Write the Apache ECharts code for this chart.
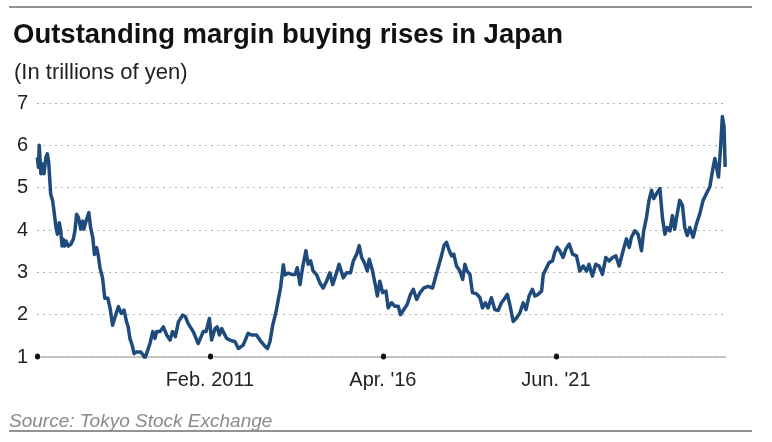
<!DOCTYPE html>
<html>
<head>
<meta charset="utf-8">
<script src="https://cdn.jsdelivr.net/npm/echarts@6/dist/echarts.min.js"></script>
<style>
  html, body { margin: 0; padding: 0; background: #fff; }
  #chart { width: 772px; height: 442px; }
</style>
</head>
<body>
<div id="chart"></div>
<script>
// months counted from Dec. 2005 (first tick), values in trillions of yen
const months = [
  0.1, 0.5, 0.8, 1.4, 2.0, 2.5, 3.2, 3.7, 4.2, 4.9, 5.6, 6.1, 6.8, 7.3, 8.0, 8.5, 9.0, 9.4, 9.9, 10.4,
  11.2, 12.1, 13.0, 13.6, 14.2, 14.9, 15.7, 16.4, 16.8, 17.6, 18.0, 18.6, 19.2, 20.0, 20.6, 21.4, 21.9, 22.6, 23.5, 24.3,
  25.4, 26.2, 27.1, 28.0, 29.2, 30.2, 31.2, 32.1, 32.7, 33.3, 34.1, 34.8, 35.7, 37.2, 38.1, 38.7, 39.5, 40.5, 41.5, 42.3,
  42.9, 44.1, 45.3, 46.5, 47.7, 48.6, 49.6, 50.7, 52.2, 53.2, 54.2, 56.0, 57.8, 59.6, 60.6, 61.8, 62.6, 63.8, 64.6, 65.4,
  66.2, 68.0, 69.2, 71.0, 72.2, 73.9, 75.7, 76.9, 78.7, 79.9, 81.4, 82.6, 83.5, 84.5, 85.7, 86.6, 87.3, 88.3, 88.9, 90.1,
  91.3, 92.5, 93.3, 94.3, 95.2, 96.4, 97.2, 98.1, 99.0, 100.2, 101.4, 102.6, 103.8, 105.0, 106.0, 106.8, 108.3, 109.8, 111.0, 112.4,
  113.4, 114.6, 115.5, 116.4, 117.6, 118.4, 119.1, 120.3, 121.5, 122.0, 122.9, 123.9, 125.1, 125.9, 127.1, 128.3, 129.5, 130.3, 131.5, 132.7,
  133.9, 134.9, 136.1, 137.3, 138.7, 140.2, 141.8, 142.8, 143.8, 145.0, 145.9, 146.8, 147.8, 148.6, 149.4, 150.4, 151.6, 152.6, 153.4, 154.2,
  155.2, 156.1, 157.6, 158.8, 159.7, 160.7, 161.7, 162.9, 164.1, 165.3, 166.5, 167.4, 168.6, 169.5, 170.7, 171.9, 173.1, 174.3, 175.3, 176.4,
  177.6, 178.5, 179.7, 180.9, 181.5, 182.4, 183.6, 184.8, 185.6, 186.5, 187.4, 188.6, 189.6, 190.8, 192.0, 193.4, 194.6, 195.8, 197.0, 197.9,
  199.1, 200.3, 201.5, 202.7, 203.9, 205.1, 206.3, 207.5, 208.7, 210.1, 211.3, 212.3, 213.1, 214.3, 215.5, 216.7, 217.5, 218.5, 219.4, 220.3,
  221.1, 222.1, 223.3, 224.2, 225.1, 225.9, 226.9, 227.8, 228.6, 229.5, 230.4, 231.4, 232.2, 233.1, 234.0, 235.2, 236.4, 237.6, 238.8, 240.0,
  241.2, 242.2, 243.0, 243.6, 244.3, 245.0, 245.7, 246.3, 246.7
];
const values = [
  5.72, 5.48, 6.0, 5.33, 5.56, 5.33, 5.72, 5.80, 5.60, 4.85, 4.69, 4.45, 4.06, 3.90, 4.17, 3.98, 3.62, 3.78, 3.62, 3.74,
  3.62, 3.66, 3.78, 3.98, 4.37, 4.29, 4.02, 4.21, 4.02, 4.21, 4.21, 4.41, 4.06, 3.82, 3.42, 3.58, 3.42, 3.10, 2.87, 2.39,
  2.39, 2.15, 1.75, 1.95, 2.19, 2.03, 2.11, 1.83, 1.71, 1.44, 1.28, 1.08, 1.12, 1.12, 1.04, 0.97, 1.12, 1.32, 1.60, 1.44,
  1.60, 1.60, 1.71, 1.52, 1.40, 1.60, 1.48, 1.83, 1.99, 1.95, 1.79, 1.60, 1.32, 1.60, 1.60, 1.91, 1.40, 1.67, 1.71, 1.52,
  1.67, 1.44, 1.40, 1.36, 1.20, 1.28, 1.56, 1.52, 1.52, 1.40, 1.28, 1.20, 1.36, 1.75, 2.07, 2.39, 2.63, 3.18, 2.94, 2.98,
  2.95, 2.95, 3.11, 2.71, 3.11, 3.51, 3.19, 3.27, 3.03, 2.95, 2.75, 2.63, 2.79, 2.99, 2.71, 2.87, 3.19, 2.87, 2.99, 2.99,
  3.27, 3.43, 3.63, 3.35, 3.19, 3.03, 3.31, 3.03, 2.63, 2.44, 2.79, 2.52, 2.56, 2.16, 2.28, 2.20, 2.20, 2.00, 2.12, 2.24,
  2.48, 2.60, 2.36, 2.52, 2.63, 2.67, 2.63, 2.87, 3.11, 3.39, 3.63, 3.71, 3.51, 3.39, 3.43, 3.15, 3.03, 2.83, 3.19, 3.03,
  2.95, 2.52, 2.49, 2.40, 2.16, 2.28, 2.16, 2.40, 2.12, 2.10, 2.28, 2.36, 2.48, 2.24, 1.84, 1.92, 2.04, 2.28, 2.12, 2.44,
  2.60, 2.44, 2.48, 2.56, 2.95, 3.07, 3.23, 3.27, 3.47, 3.59, 3.51, 3.35, 3.55, 3.67, 3.43, 3.39, 3.03, 3.15, 3.03, 3.19,
  2.91, 3.19, 3.15, 2.95, 3.35, 3.27, 3.35, 3.39, 3.15, 3.51, 3.79, 3.59, 3.83, 3.98, 3.90, 3.51, 3.98, 4.30, 4.70, 4.94,
  4.74, 4.86, 4.98, 4.30, 3.90, 4.06, 3.98, 4.34, 4.02, 4.38, 4.70, 4.58, 4.06, 3.87, 4.06, 3.83, 4.14, 4.38, 4.70, 4.86,
  5.02, 5.41, 5.69, 5.65, 5.25, 5.89, 6.68, 6.44, 5.49
];
const tickMonths = [0, 62, 124, 186];
const tickLabels = ['', 'Feb. 2011', "Apr. '16", "Jun. '21"];
const yTicks = [1, 2, 3, 4, 5, 6, 7];

const FONT = '"Liberation Sans", Arial, Helvetica, sans-serif';
const chart = echarts.init(document.getElementById('chart'));
chart.setOption({
  animation: false,
  title: [
    { text: 'Outstanding margin buying rises in Japan', left: 13, top: 21, padding: 0,
      textStyle: { fontFamily: FONT, fontSize: 27.5, fontWeight: 'bold', color: '#111' } },
    { text: '(In trillions of yen)', left: 14, top: 62, padding: 0,
      textStyle: { fontFamily: FONT, fontSize: 22, fontWeight: 'normal', color: '#222' } },
    { text: 'Source: Tokyo Stock Exchange', left: 9, top: 412, padding: 0,
      textStyle: { fontFamily: FONT, fontSize: 19, fontWeight: 'normal', fontStyle: 'italic', color: '#8a8a8a' } }
  ],
  graphic: [
    { type: 'line', shape: { x1: 9, y1: 7, x2: 752, y2: 7 }, style: { stroke: '#6e6e6e', lineWidth: 1.5 } },
    { type: 'line', shape: { x1: 9, y1: 431, x2: 752, y2: 431 }, style: { stroke: '#6e6e6e', lineWidth: 1.5 } }
  ],
  grid: { left: 37, right: 46, top: 103, bottom: 85 },
  xAxis: {
    type: 'value', min: 0, max: 247,
    axisLine: { show: true, lineStyle: { color: '#b5b5b5', width: 1.5 } },
    axisTick: { show: true, customValues: tickMonths, length: 1, inside: true,
      lineStyle: { color: '#111', width: 5, cap: 'round' } },
    axisLabel: { customValues: tickMonths, margin: 13, fontFamily: FONT, fontSize: 20, color: '#222',
      formatter: v => tickLabels[tickMonths.indexOf(v)] || '' },
    splitLine: { show: false }
  },
  yAxis: {
    type: 'value', min: yTicks[0], max: yTicks[yTicks.length - 1], interval: 1,
    axisLine: { show: false }, axisTick: { show: false },
    axisLabel: { margin: 9, fontFamily: FONT, fontSize: 20, color: '#222' },
    splitLine: { show: true, lineStyle: { color: '#b0b0b0', type: [2, 4], width: 1 } }
  },
  series: [{
    type: 'line',
    data: months.map((m, i) => [m, values[i]]),
    showSymbol: false,
    lineStyle: { color: '#1f4b7c', width: 3.5, join: 'round' }
  }]
});
</script>
</body>
</html>
